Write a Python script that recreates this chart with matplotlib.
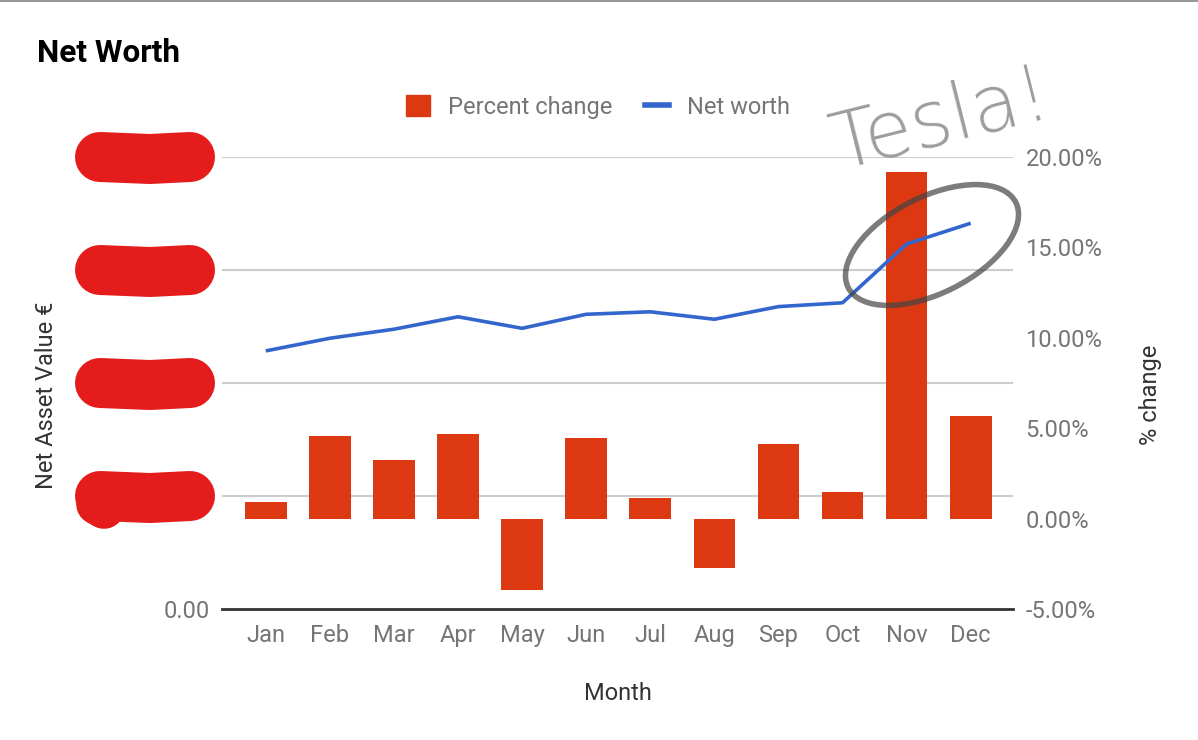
import numpy as np
import matplotlib
matplotlib.use("Agg")
import matplotlib.pyplot as plt
from matplotlib.patches import Patch, Ellipse, Rectangle
from matplotlib.lines import Line2D
from matplotlib.transforms import IdentityTransform

plt.rcParams['font.family'] = ['Roboto', 'DejaVu Sans']

# data
months = ['Jan', 'Feb', 'Mar', 'Apr', 'May', 'Jun',
          'Jul', 'Aug', 'Sep', 'Oct', 'Nov', 'Dec']
pct_change = [0.92, 4.57, 3.24, 4.68, -3.95, 4.46,
              1.12, -2.72, 4.13, 1.47, 19.15, 5.67]
# net worth in thousands of euro (left axis labels are scribbled out)
net_worth = [114.2, 119.8, 123.8, 129.3, 124.2, 130.4,
             131.5, 128.2, 133.8, 135.5, 161.5, 170.7]
left_ticks = [0, 50, 100, 150, 200]
right_ticks = [-5, 0, 5, 10, 15, 20]

W, H = 1198, 740
RED = '#dc3912'
BLUE = '#3366cc'
GREY = '#757575'
FS = 17

fig = plt.figure(figsize=(W / 100, H / 100), dpi=100)
ax = fig.add_axes([222 / W, 1 - 609 / H, 791 / W, 452 / H])
ax2 = ax.twinx()

x = np.arange(len(months))

# line on the left axis, bars on the right axis
ax2.bar(x, pct_change, width=0.65, color=RED, zorder=2)
ax.plot(x, net_worth, color=BLUE, lw=2.6, zorder=3, solid_capstyle='butt')
ax.set_zorder(ax2.get_zorder() + 1)
ax.patch.set_visible(False)
ax2.patch.set_visible(False)

ax.set_xlim(-0.683, 11.66)
ax.set_ylim(left_ticks[0], left_ticks[-1])
ax2.set_ylim(right_ticks[0], right_ticks[-1])
ax.set_yticks(left_ticks)
ax.set_yticklabels(['0.00'] + [''] * (len(left_ticks) - 1))
ax2.set_yticks(right_ticks)
ax2.set_yticklabels(['%.2f%%' % t for t in right_ticks])
ax.set_xticks(x)
ax.set_xticklabels(months)

# gridlines belong to the left axis, drawn on ax2 so they sit behind the bars
for t in left_ticks[1:]:
    frac = (t - left_ticks[0]) / (left_ticks[-1] - left_ticks[0])
    ax2.axhline(right_ticks[0] + frac * (right_ticks[-1] - right_ticks[0]),
                color='#cccccc', lw=1.5, zorder=0)

for a in (ax, ax2):
    for s in a.spines.values():
        s.set_visible(False)
    a.tick_params(length=0, labelsize=FS, labelcolor=GREY)
ax.spines['bottom'].set_visible(True)
ax.spines['bottom'].set_color('#333333')
ax.spines['bottom'].set_linewidth(2)
ax.tick_params(axis='y', pad=9)
ax.tick_params(axis='x', pad=11)
ax2.tick_params(axis='y', pad=9)

fig.text(37 / W, 1 - 53 / H, 'Net Worth', fontsize=22.7, fontweight='bold',
         color='black', va='center', ha='left')
fig.text(618 / W, 1 - 693 / H, 'Month', fontsize=FS, color='#333333',
         ha='center', va='center')
fig.text(47 / W, 1 - 395 / H, 'Net Asset Value €', fontsize=FS, color='#333333',
         rotation=90, ha='center', va='center')
fig.text(1151 / W, 1 - 395 / H, '% change', fontsize=FS, color='#333333',
         rotation=90, ha='center', va='center')

handles = [Patch(facecolor=RED, edgecolor=RED, label='Percent change'),
           Line2D([], [], color=BLUE, lw=4, label='Net worth')]
fig.legend(handles=handles, loc='center', bbox_to_anchor=(598 / W, 1 - 107 / H),
           ncol=2, frameon=False, fontsize=FS, labelcolor=GREY,
           handlelength=1.0, handleheight=1.0, handletextpad=0.75,
           columnspacing=1.4)

# top border of the screenshot
fig.add_artist(Rectangle((0, 1 - 2 / H), 1, 2 / H, transform=fig.transFigure,
                         color='#999999', lw=0))

# red scribbles over the left axis labels
fig.canvas.draw()
for t in left_ticks[1:]:
    yd = ax.transData.transform((0, t))[1]
    fig.add_artist(Line2D([100, 150, 190], [yd, yd - 2, yd], transform=IdentityTransform(),
                          color='#e41c1c', lw=36, solid_capstyle='round', zorder=5))
yd = ax.transData.transform((0, left_ticks[1]))[1]
fig.add_artist(Line2D([97, 104], [yd - 8, yd - 12], transform=IdentityTransform(),
                      color='#e41c1c', lw=30, solid_capstyle='round', zorder=5))

# hand-drawn note
fig.text(838 / W, 1 - 170 / H, 'Tesla!', fontsize=56, color='#8c8c8c', alpha=0.85,
         rotation=14, rotation_mode='anchor', ha='left', va='baseline',
         fontweight='light', family=['DejaVu Sans'])
fig.add_artist(Ellipse((932, H - 245), 188, 96, angle=27, transform=IdentityTransform(),
                       fill=False, edgecolor='#444444', lw=4, alpha=0.7, zorder=6))

fig.savefig('out.png', dpi=100)
